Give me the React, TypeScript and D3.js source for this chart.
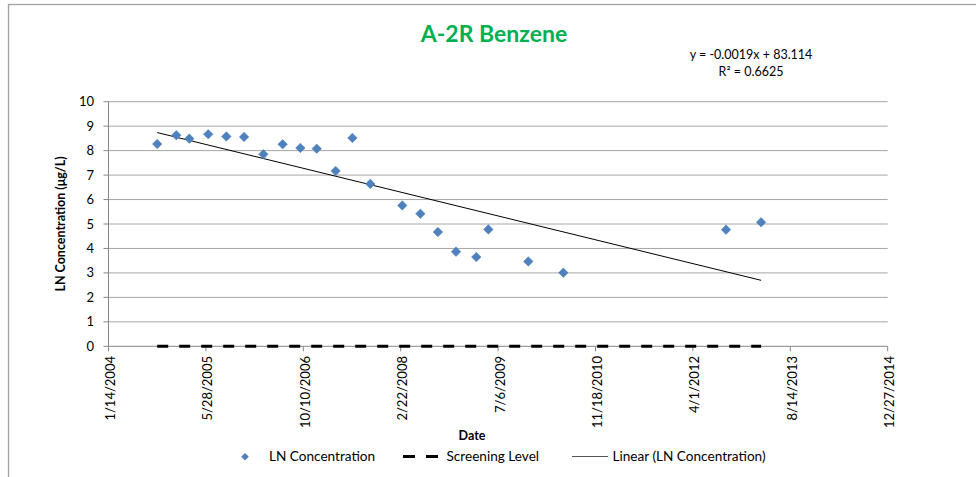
import React from "react";
import * as d3 from "d3";

// Excel date serials (days since 12/30/1899)
const sampleDates: number[] = [
  38250, 38348, 38415, 38512, 38605, 38696, 38795, 38894, 38985, 39069, 39166, 39252,
  39344, 39508, 39601, 39691, 39784, 39888, 39950, 40155, 40335, 41170, 41350,
];
const lnConcentration: number[] = [
  8.27, 8.63, 8.49, 8.67, 8.58, 8.56, 7.85, 8.26, 8.11, 8.08, 7.17, 8.52,
  6.64, 5.76, 5.42, 4.67, 3.87, 3.65, 4.78, 3.47, 3.01, 4.77, 5.07,
];
const screeningDates: number[] = [38250, 41350];
const screeningLevel: number[] = [0, 0];
const xTickValues: number[] = [38000, 38500, 39000, 39500, 40000, 40500, 41000, 41500, 42000];
const yTickValues: number[] = [0, 1, 2, 3, 4, 5, 6, 7, 8, 9, 10];
const legendLabels: string[] = ["LN Concentration", "Screening Level", "Linear (LN Concentration)"];
const titleText = "A-2R Benzene";
const equationText = "y = -0.0019x + 83.114";
const r2Text = "R² = 0.6625";

const W = 976;
const H = 477;
const plotLeft = 108.5;
const plotRight = 887.7;
const plotTop = 101.7;
const plotBottom = 346.3;
const FONT = "Lato, 'Open Sans', sans-serif";

function serialToLabel(s: number): string {
  const base = Date.UTC(1899, 11, 30);
  const d = new Date(base + s * 86400000);
  return `${d.getUTCMonth() + 1}/${d.getUTCDate()}/${d.getUTCFullYear()}`;
}

export default function App() {
  const x = d3.scaleLinear().domain([38000, 42000]).range([plotLeft, plotRight]);
  const y = d3.scaleLinear().domain([0, 10]).range([plotBottom, plotTop]);

  // least squares trendline
  const n = sampleDates.length;
  const mx = d3.mean(sampleDates) as number;
  const my = d3.mean(lnConcentration) as number;
  let sxy = 0, sxx = 0;
  for (let i = 0; i < n; i++) {
    sxy += (sampleDates[i] - mx) * (lnConcentration[i] - my);
    sxx += (sampleDates[i] - mx) ** 2;
  }
  const slope = sxy / sxx;
  const intercept = my - slope * mx;
  const xMin = d3.min(sampleDates) as number;
  const xMax = d3.max(sampleDates) as number;
  const trend: [number, number][] = [
    [xMin, intercept + slope * xMin],
    [xMax, intercept + slope * xMax],
  ];
  const line = d3.line<[number, number]>().x((d) => x(d[0])).y((d) => y(d[1]));
  const screening: [number, number][] = screeningDates.map((d, i) => [d, screeningLevel[i]]);
  const diamond = d3.symbol().type(d3.symbolDiamond2).size(58)();

  const gridColor = "#a6a6a6";
  const axisColor = "#868686";

  return (
    <svg
      width={W}
      height={H}
      style={{ position: "absolute", left: 0, top: 0, background: "#fff" }}
      fontFamily={FONT}
    >
      <rect x={8.5} y={4.5} width={1200} height={600} fill="#fff" stroke="#a0a0a0" strokeWidth={1.3} />

      {/* title */}
      <text x={494} y={41.5} textAnchor="middle" fontSize={23} fontWeight="bold" fill="#00b050">
        {titleText}
      </text>
      <text x={751} y={59} textAnchor="middle" fontSize={12.5} fill="#000">
        {equationText}
      </text>
      <text x={751} y={76} textAnchor="middle" fontSize={12.5} fill="#000">
        {r2Text}
      </text>

      {/* gridlines */}
      {yTickValues.slice(1).map((t) => (
        <line key={"g" + t} x1={plotLeft} x2={plotRight} y1={y(t)} y2={y(t)} stroke={gridColor} strokeWidth={1} />
      ))}

      {/* y axis */}
      <line x1={plotLeft} x2={plotLeft} y1={plotTop} y2={plotBottom} stroke={axisColor} />
      {yTickValues.map((t) => (
        <g key={"y" + t}>
          <line x1={plotLeft - 5} x2={plotLeft} y1={y(t)} y2={y(t)} stroke={axisColor} />
          <text x={94} y={y(t)} dy="0.35em" textAnchor="end" fontSize={13} fill="#000">
            {t}
          </text>
        </g>
      ))}

      {/* x axis */}
      <line x1={plotLeft} x2={plotRight} y1={plotBottom} y2={plotBottom} stroke={axisColor} />
      {xTickValues.map((t) => (
        <g key={"x" + t}>
          <line x1={x(t)} x2={x(t)} y1={plotBottom} y2={plotBottom + 5} stroke={axisColor} />
          <text
            transform={`translate(${x(t) + 2},356) rotate(-90)`}
            dy="0.35em"
            textAnchor="end"
            fontSize={13}
            fill="#000"
          >
            {serialToLabel(t)}
          </text>
        </g>
      ))}

      {/* axis titles */}
      <text
        transform="translate(61,224) rotate(-90)"
        dy="0.35em"
        textAnchor="middle"
        fontSize={12.5}
        fontWeight="bold"
        fill="#000"
      >
        LN Concentration (μg/L)
      </text>
      <text x={472} y={440} textAnchor="middle" fontSize={12.5} fontWeight="bold" fill="#000">
        Date
      </text>

      {/* screening level */}
      <path d={line(screening) || ""} fill="none" stroke="#000" strokeWidth={3} strokeDasharray="11,11" />

      {/* trendline */}
      <path d={line(trend) || ""} fill="none" stroke="#000" strokeWidth={1} />

      {/* points */}
      {sampleDates.map((d, i) => (
        <path
          key={"p" + i}
          d={diamond || ""}
          transform={`translate(${x(d)},${y(lnConcentration[i])})`}
          fill="#4f81bd"
          stroke="#4a7ebb"
          strokeWidth={0.5}
        />
      ))}

      {/* legend */}
      <path d={diamond || ""} transform="translate(245,456.7) scale(0.8)" fill="#4f81bd" />
      <text x={269} y={461} fontSize={13.6} fill="#000">
        {legendLabels[0]}
      </text>
      <line x1={403} x2={438} y1={456.5} y2={456.5} stroke="#000" strokeWidth={3} strokeDasharray="12,11" />
      <text x={446.5} y={461} fontSize={13.6} fill="#000">
        {legendLabels[1]}
      </text>
      <line x1={572} x2={608} y1={456.5} y2={456.5} stroke="#555" strokeWidth={1} />
      <text x={612.5} y={461} fontSize={13.6} fill="#000">
        {legendLabels[2]}
      </text>
    </svg>
  );
}
